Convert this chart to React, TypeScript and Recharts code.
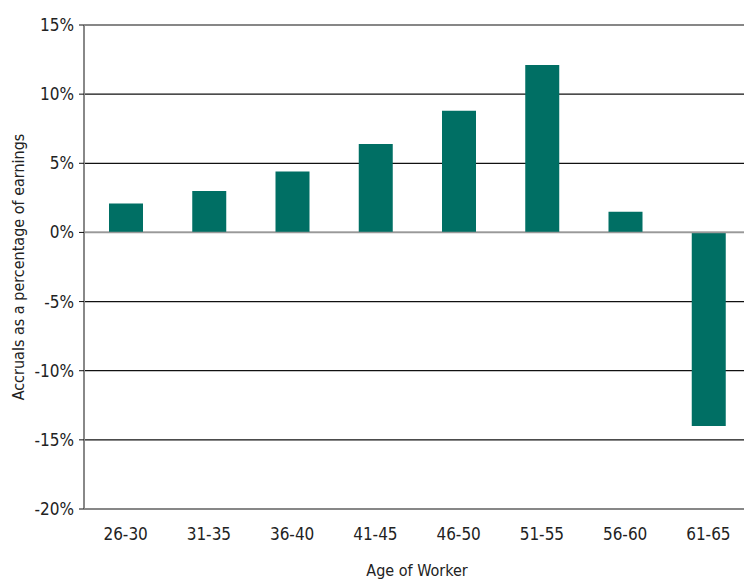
import { BarChart, Bar, XAxis, YAxis, CartesianGrid, ReferenceLine } from "recharts";

const ageGroups = ["26-30", "31-35", "36-40", "41-45", "46-50", "51-55", "56-60", "61-65"];
const accruals = [2.1, 3.0, 4.4, 6.4, 8.8, 12.1, 1.5, -14.0];
const yTicks = [-20, -15, -10, -5, 0, 5, 10, 15];

const FONT = '"Liberation Sans Narrow", "DejaVu Sans Condensed", "Roboto Condensed", sans-serif';
const BAR_COLOR = "#006f64";

const data = ageGroups.map((age, i) => ({ age, value: accruals[i] }));

export default function App() {
  return (
    <div
      style={{
        position: "absolute",
        left: 0,
        top: 0,
        width: 744,
        height: 581,
        overflow: "hidden",
        background: "#fff",
        fontFamily: FONT,
      }}
    >
      <BarChart
        width={750}
        height={581}
        data={data}
        margin={{ top: 25, right: 0, bottom: 0, left: 0 }}
      >
        <CartesianGrid vertical={false} stroke="#111" strokeWidth={1.2} />
        <XAxis
          dataKey="age"
          height={72}
          axisLine={false}
          tickLine={false}
          tickSize={0}
          tickMargin={19}
          tick={{ fill: "#222", fontSize: 17, fontFamily: FONT }}
          label={{
            value: "Age of Worker",
            position: "insideBottom",
            offset: 5,
            fill: "#222",
            fontSize: 16,
            fontFamily: FONT,
          }}
        />
        <YAxis
          width={84}
          domain={[-20, 15]}
          ticks={yTicks}
          interval={0}
          tickFormatter={(v: number) => `${v}%`}
          axisLine={{ stroke: "#888", strokeWidth: 2 }}
          tickLine={{ stroke: "#111" }}
          tickSize={5}
          tickMargin={5}
          tick={{ fill: "#222", fontSize: 17, fontFamily: FONT }}
          label={{
            value: "Accruals as a percentage of earnings",
            angle: -90,
            position: "insideLeft",
            offset: 18,
            style: { textAnchor: "middle" },
            fill: "#222",
            fontSize: 16,
            fontFamily: FONT,
          }}
        />
        <ReferenceLine y={0} stroke="#999" strokeWidth={1.5} />
        <Bar dataKey="value" fill={BAR_COLOR} barSize={34} isAnimationActive={false} />
      </BarChart>
    </div>
  );
}
